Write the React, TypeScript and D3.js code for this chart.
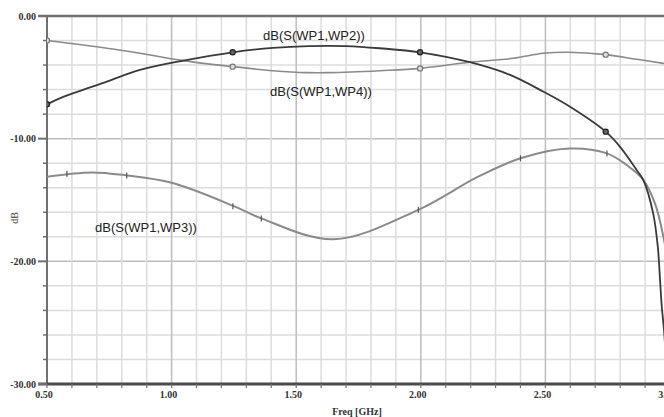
import React from "react";
import * as d3 from "d3";

const W = 664;
const H = 417;

// Frequency ticks (GHz) and dB ticks
const xTickLabels = ["0.50", "1.00", "1.50", "2.00", "2.50", "3.00"];
const yTickLabels = ["0.00", "-10.00", "-20.00", "-30.00"];

// dB(S(WP1,WP2))
const freqWP2 = [0.5, 0.565, 0.74, 0.873, 1.047, 1.245, 1.407, 1.55, 1.7, 1.836, 1.997, 2.197, 2.358, 2.492, 2.599, 2.742, 2.799, 2.866, 2.893, 2.932, 2.951, 2.96, 2.967, 2.976, 2.985];
const dbWP2 = [-7.2, -6.6, -5.35, -4.4, -3.64, -2.96, -2.6, -2.45, -2.45, -2.63, -2.96, -3.77, -4.8, -6.17, -7.4, -9.43, -10.65, -12.55, -13.37, -16.05, -18.8, -21.5, -23.7, -25.6, -28.5];

// dB(S(WP1,WP3))
const freqWP3 = [0.5, 0.68, 0.82, 1.0, 1.25, 1.36, 1.65, 1.99, 2.23, 2.4, 2.595, 2.747, 2.826, 2.893, 2.94, 2.976, 2.99];
const dbWP3 = [-13.1, -12.75, -13.0, -13.6, -15.5, -16.5, -18.2, -15.8, -13.1, -11.6, -10.8, -11.2, -12.15, -13.37, -15.3, -18.25, -20];

// dB(S(WP1,WP4))
const freqWP4 = [0.5, 0.74, 0.873, 1.047, 1.245, 1.408, 1.542, 1.636, 1.836, 1.997, 2.197, 2.371, 2.492, 2.592, 2.742, 2.866, 2.973, 3.0];
const dbWP4 = [-2.0, -2.63, -3.04, -3.64, -4.13, -4.46, -4.62, -4.62, -4.46, -4.27, -3.77, -3.45, -3.04, -2.96, -3.15, -3.53, -3.86, -3.95];

// markers
const markWP2F = [0.5, 1.245, 1.997, 2.742];
const markWP2D = [-7.2, -2.96, -2.96, -9.43];
const markWP4F = [0.5, 1.245, 1.997, 2.742];
const markWP4D = [-2.0, -4.13, -4.27, -3.15];
const markWP3F = [0.58, 0.82, 1.246, 1.36, 1.99, 2.4, 2.747];
const markWP3D = [-12.85, -13.0, -15.5, -16.5, -15.8, -11.6, -11.2];

const seriesLabels = ["dB(S(WP1,WP2))", "dB(S(WP1,WP4))", "dB(S(WP1,WP3))"];

export default function App() {
  const x = d3.scaleLinear().domain([0.5, 3.0]).range([47, 670]);
  const y = d3.scaleLinear().domain([-30, 0]).range([384, 16]);

  const line = (fs: number[], ds: number[]) =>
    d3
      .line<number>()
      .x((_, i) => x(fs[i]))
      .y((d) => y(d))
      .curve(d3.curveCatmullRom.alpha(0.5))(ds) || "";

  const vGrid = d3.range(0, 26).map((i) => ({ f: 0.5 + i * 0.1, major: i % 5 === 0 }));
  const hGrid = d3.range(0, 16).map((i) => ({ v: -i * 2, major: i % 5 === 0 }));
  const serif = "'Liberation Serif', 'DejaVu Serif', serif";
  const sans = "'Liberation Sans', Arial, sans-serif";

  return (
    <svg width={W} height={H} style={{ position: "absolute", left: 0, top: 0, background: "#fff" }}>
      <rect x={0} y={0} width={W} height={H} fill="#fff" />
      <defs>
        <clipPath id="plot">
          <rect x={47} y={16} width={640} height={368} />
        </clipPath>
      </defs>
      {/* grid */}
      {hGrid.map((g, i) => (
        <line key={"h" + i} x1={47} x2={W} y1={y(g.v)} y2={y(g.v)} stroke={g.major ? "#bdbdbd" : "#dcdcdc"} strokeWidth={1.5} />
      ))}
      {vGrid.map((g, i) => (
        <line key={"v" + i} x1={x(g.f)} x2={x(g.f)} y1={16} y2={384} stroke={g.major ? "#bdbdbd" : "#dcdcdc"} strokeWidth={1.5} />
      ))}
      {/* axes frame */}
      <line x1={38} x2={W} y1={16} y2={16} stroke="#707070" strokeWidth={2.5} />
      <line x1={47} x2={47} y1={16} y2={384} stroke="#707070" strokeWidth={2} />
      <line x1={38} x2={W} y1={384} y2={384} stroke="#4a4a4a" strokeWidth={3} />
      {hGrid.map((g, i) => (
        <line key={"lt" + i} x1={g.major ? 38 : 43} x2={47} y1={y(g.v)} y2={y(g.v)} stroke="#707070" strokeWidth={g.major ? 2 : 1.5} />
      ))}
      {vGrid.map((g, i) => (
        <line key={"bt" + i} x1={x(g.f)} x2={x(g.f)} y1={384} y2={388} stroke="#707070" strokeWidth={1.2} />
      ))}
      {/* tick labels */}
      {yTickLabels.map((t, i) => (
        <text key={"yl" + i} x={36} y={y(+t) + 3.5} textAnchor="end" fontFamily={serif} fontWeight="bold" fontSize={10} fill="#333">
          {t}
        </text>
      ))}
      {xTickLabels.map((t, i) => (
        <text key={"xl" + i} x={x(+t) - 3} y={398} textAnchor="middle" fontFamily={serif} fontWeight="bold" fontSize={10} fill="#333">
          {t}
        </text>
      ))}
      <text x={357} y={415} textAnchor="middle" fontFamily={serif} fontWeight="bold" fontSize={10} fill="#333">
        Freq [GHz]
      </text>
      <text transform="translate(18,218) rotate(-90)" textAnchor="middle" fontFamily={serif} fontSize={10} fill="#333">
        dB
      </text>
      {/* curves */}
      <g clipPath="url(#plot)" fill="none">
        <path d={line(freqWP4, dbWP4)} stroke="#8a8a8a" strokeWidth={1.6} />
        <path d={line(freqWP3, dbWP3)} stroke="#8a8a8a" strokeWidth={2} />
        <path d={line(freqWP2, dbWP2)} stroke="#3a3a3a" strokeWidth={1.8} />
        {markWP4F.map((f, i) => (
          <circle key={"m4" + i} cx={x(f)} cy={y(markWP4D[i])} r={2.6} fill="#ddd" stroke="#777" strokeWidth={1.2} />
        ))}
        {markWP2F.map((f, i) => (
          <circle key={"m2" + i} cx={x(f)} cy={y(markWP2D[i])} r={2.6} fill="#666" stroke="#222" strokeWidth={1.2} />
        ))}
        {markWP3F.map((f, i) => (
          <line key={"m3" + i} x1={x(f)} x2={x(f)} y1={y(markWP3D[i]) - 3} y2={y(markWP3D[i]) + 3} stroke="#555" strokeWidth={1.2} />
        ))}
      </g>
      {/* series labels */}
      <text x={263} y={40} fontFamily={sans} fontSize={13} fill="#222">{seriesLabels[0]}</text>
      <text x={270} y={96} fontFamily={sans} fontSize={13} fill="#222">{seriesLabels[1]}</text>
      <text x={95} y={232} fontFamily={sans} fontSize={13} fill="#222">{seriesLabels[2]}</text>
    </svg>
  );
}
